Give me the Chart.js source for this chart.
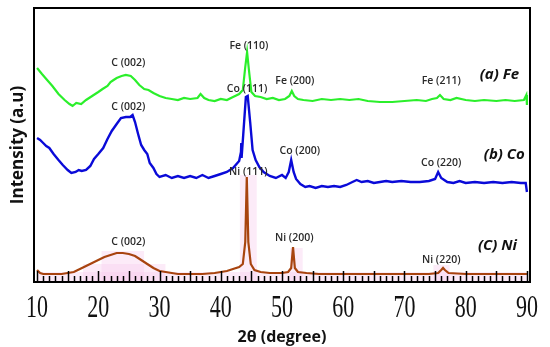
<!DOCTYPE html>
<html>
<head>
<meta charset="utf-8">
<script src="https://cdn.jsdelivr.net/npm/chart.js@4/dist/chart.umd.min.js"></script>
<style>
  html, body { margin: 0; padding: 0; background: #fff; }
  #wrap { width: 550px; height: 347px; }
</style>
</head>
<body>
<div id="wrap"><canvas id="grafico"></canvas></div>
<script>
// 2θ ticks
const tickValues = [10, 20, 30, 40, 50, 60, 70, 80, 90]

// (a) Fe
const feTheta = [10, 10.8, 11.5, 12.5, 13.5, 14.5, 15.3, 15.8, 16.4, 17.2, 18, 19, 20, 20.7, 21.5, 22, 22.5, 23, 23.8, 24.5, 25.3, 26, 26.7, 27.5, 28.2, 29, 30, 31, 32, 33, 34, 35, 36.2, 36.7, 37.3, 38, 39, 40, 41, 42, 43, 43.6, 44.0, 44.3, 44.6, 45, 45.6, 46.5, 47.5, 48.5, 49.5, 50.5, 51.2, 51.6, 52, 52.6, 53.5, 55, 56.5, 58, 59.5, 61, 62.5, 64, 66, 68, 70, 72, 73.5, 74.5, 75.3, 75.8, 76.4, 77.5, 78.5, 80, 81.5, 83, 85, 86.5, 88, 89.5, 89.9, 90]
const feCounts = [214, 208, 203, 196, 188, 182, 178, 176, 179, 178, 182, 186, 190, 193, 196, 200, 202, 204, 206, 207, 206, 202, 197, 193, 192, 189, 186, 184, 183, 182, 184, 183, 184, 188, 184, 182, 181, 183, 182, 185, 188, 192, 215, 230, 212, 190, 186, 185, 183, 184, 182, 183, 186, 191, 186, 183, 182, 181, 183, 182, 183, 182, 183, 181, 180, 180, 181, 182, 181, 183, 184, 187, 183, 182, 184, 182, 181, 182, 181, 182, 181, 182, 187, 177]

// (b) Co
const coTheta = [10, 10.5, 11, 11.5, 12, 12.7, 13.5, 14.2, 15, 15.6, 16.3, 16.8, 17.3, 18, 18.7, 19.3, 20, 20.8, 21.5, 22.2, 23, 23.7, 24.5, 25.2, 25.6, 26, 26.5, 27, 27.5, 28, 28.4, 29, 29.5, 30, 31, 32, 33, 34, 35, 36, 37, 38, 39, 40, 41, 42, 43, 43.3, 43.35, 43.4, 43.7, 44.1, 44.4, 44.8, 45.2, 45.7, 46.3, 47, 48, 49, 50, 50.6, 51.1, 51.5, 51.9, 52.3, 53, 53.8, 54.5, 55.5, 56.5, 57.5, 58.5, 59.5, 60.5, 61.5, 62.2, 63, 64, 65, 66, 67, 68, 69.5, 71, 72.5, 74, 75, 75.5, 76, 77, 78, 79, 80, 81.5, 83, 84.5, 86, 87.5, 89, 89.8, 90]
const coCounts = [144, 142, 139, 136, 134, 128, 122, 117, 112, 109, 110, 112, 111, 112, 116, 123, 128, 134, 143, 151, 158, 164, 165, 165, 167, 160, 148, 137, 132, 128, 119, 114, 108, 105, 107, 104, 106, 104, 106, 104, 107, 104, 106, 108, 110, 114, 121, 130, 139, 124, 150, 185, 186, 160, 132, 122, 115, 110, 106, 104, 107, 104, 110, 122, 110, 103, 98, 95, 96, 94, 96, 95, 96, 95, 97, 100, 102, 100, 101, 99, 100, 101, 100, 101, 100, 100, 101, 103, 110, 104, 100, 99, 101, 99, 100, 99, 100, 99, 100, 99, 99, 90]

// (C) Ni
const niTheta = [10, 10.5, 11, 12, 13, 14, 15, 16, 17, 18, 19, 20, 21, 22, 23, 24, 25, 26, 27, 28, 29, 30, 31, 32, 33, 35, 37, 39, 40, 41, 42, 43, 43.6, 44.0, 44.25, 44.5, 44.9, 45.5, 46.5, 48, 50, 51, 51.5, 51.8, 52.1, 52.6, 54, 56, 60, 65, 70, 74, 75.5, 76.0, 76.3, 76.6, 77.2, 80, 85, 90]
const niCounts = [12, 9, 8, 8, 8, 8, 9, 10, 13, 16, 19, 22, 25, 27, 29, 29, 28, 26, 22, 18, 14, 11, 10, 9, 8, 8, 8, 9, 10, 11, 13, 15, 18, 40, 105, 40, 18, 12, 10, 9, 9, 10, 14, 35, 14, 10, 9, 8, 8, 8, 8, 8, 9, 12, 14, 12, 9, 8, 8, 8]

// pink shading under the Ni pattern: [from, to, height]
const niShading = [[10, 90, 10], [17.5, 31, 18], [20.5, 27.5, 31], [43.1, 45.9, 107], [51.3, 53.4, 34], [74.7, 77.4, 17]]

// peak labels
const peakNames = ['C (002)', 'Fe (110)', 'Fe (200)', 'Fe (211)', 'C (002)', 'Co (111)', 'Co (200)', 'Co (220)', 'C (002)', 'Ni (111)', 'Ni (200)', 'Ni (220)']
const peakTheta = [24.9, 44.6, 52.1, 76.0, 24.9, 44.3, 52.9, 76.0, 24.9, 44.5, 52.0, 76.0]
const peakLevel = [219, 236, 201, 201, 175, 193, 131, 119, 40, 110, 44, 22]

// sample labels
const sampleNames = ['(a) Fe', '(b) Co', '(C) Ni']
const sampleTheta = [85.5, 86.3, 85.2]
const sampleLevel = [207, 127, 36]

function juntar(xs, ys) {
  return xs.map((x, i) => ({ x: x, y: ys[i] }))
}

const faixas = niShading.map(f => ({
  data: [{ x: f[0], y: 0 }, { x: f[0], y: f[2] }, { x: f[1], y: f[2] }, { x: f[1], y: 0 }],
  borderWidth: 0,
  pointRadius: 0,
  fill: 'origin',
  backgroundColor: 'rgba(248, 205, 238, 0.4)',
  borderColor: 'rgba(0,0,0,0)'
}))

const moldura = {
  id: 'moldura',
  afterDraw(chart) {
    const ctx = chart.ctx
    const a = chart.chartArea
    const xs = chart.scales.x
    ctx.save()
    ctx.strokeStyle = '#000'
    ctx.lineWidth = 2
    ctx.strokeRect(a.left, a.top, a.right - a.left, a.bottom - a.top)
    // ticks pointing into the plot
    ctx.lineWidth = 1.5
    for (let v = 10; v <= 90; v++) {
      const px = Math.round(xs.getPixelForValue(v)) + 0.5
      const len = v % 5 === 0 ? 11 : 6
      ctx.beginPath()
      ctx.moveTo(px, a.bottom)
      ctx.lineTo(px, a.bottom - len)
      ctx.stroke()
    }
    // tall serif tick labels
    ctx.fillStyle = '#111'
    ctx.textAlign = 'center'
    ctx.textBaseline = 'alphabetic'
    ctx.font = '22px "Liberation Serif", "Times New Roman", serif'
    tickValues.forEach(v => {
      ctx.save()
      ctx.translate(xs.getPixelForValue(v), a.bottom + 35)
      ctx.scale(1, 1.4)
      ctx.fillText(String(v), 0, 0)
      ctx.restore()
    })
    ctx.restore()
  }
}

const rotulos = {
  id: 'rotulos',
  afterDatasetsDraw(chart) {
    const ctx = chart.ctx
    const xs = chart.scales.x
    const ys = chart.scales.y
    ctx.save()
    ctx.textAlign = 'center'
    ctx.textBaseline = 'middle'
    ctx.fillStyle = '#2a2a2a'
    ctx.font = '600 10.5px "Open Sans"'
    peakNames.forEach((n, i) => {
      ctx.fillText(n, xs.getPixelForValue(peakTheta[i]), ys.getPixelForValue(peakLevel[i]))
    })
    ctx.fillStyle = '#111'
    ctx.font = 'italic bold 15px "Open Sans"'
    sampleNames.forEach((n, i) => {
      ctx.fillText(n, xs.getPixelForValue(sampleTheta[i]), ys.getPixelForValue(sampleLevel[i]))
    })
    ctx.restore()
  }
}

const graficoXRD = new Chart(document.getElementById('grafico'), {
  type: 'line',
  data: {
    datasets: [{
      label: '(a) Fe',
      data: juntar(feTheta, feCounts),
      borderColor: '#2bef2b',
      borderWidth: 2.2
    }, {
      label: '(b) Co',
      data: juntar(coTheta, coCounts),
      borderColor: '#0a0ad8',
      borderWidth: 2.4
    }, {
      label: '(C) Ni',
      data: juntar(niTheta, niCounts),
      borderColor: '#a8440f',
      borderWidth: 2.2
    }, ...faixas]
  },
  options: {
    responsive: true,
    maintainAspectRatio: false,
    animation: false,
    elements: { point: { radius: 0 }, line: { tension: 0 } },
    layout: { padding: { top: 8, right: 20, bottom: 0, left: 0 } },
    plugins: { legend: { display: false }, tooltip: { enabled: false } },
    scales: {
      x: {
        type: 'linear',
        min: 9.5,
        max: 90.5,
        afterFit: s => { s.height = 65 },
        afterBuildTicks: s => { s.ticks = tickValues.map(v => ({ value: v })) },
        grid: { display: false },
        border: { display: false },
        ticks: { display: false },
        title: {
          display: true,
          text: '2θ (degree)',
          color: '#111',
          padding: { top: 4, bottom: 0 },
          font: { family: '"Open Sans"', size: 16, weight: 'bold' }
        }
      },
      y: {
        min: 0,
        max: 274,
        afterFit: s => { s.width = 34 },
        grid: { display: false },
        border: { display: false },
        ticks: { display: false },
        title: {
          display: true,
          text: 'Intensity (a.u)',
          color: '#111',
          padding: { top: 8, bottom: 0 },
          font: { family: '"Open Sans"', size: 17, weight: 'bold' }
        }
      }
    }
  },
  plugins: [moldura, rotulos]
})
</script>
</body>
</html>
